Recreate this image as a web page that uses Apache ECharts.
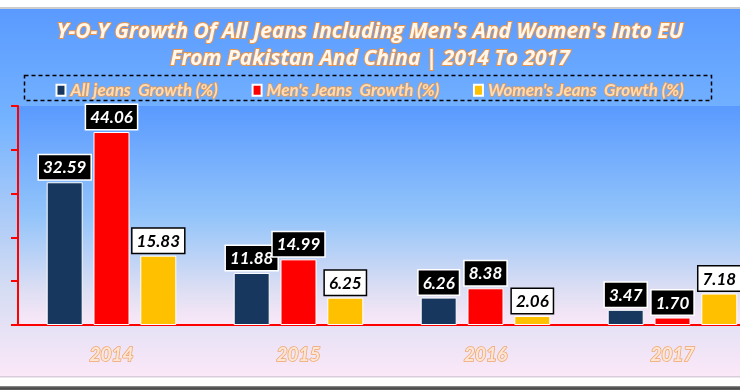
<!DOCTYPE html>
<html>
<head>
<meta charset="utf-8">
<script src="https://cdn.jsdelivr.net/npm/echarts@6/dist/echarts.min.js"></script>
<style>html,body{margin:0;padding:0;background:#fff;}#c{width:740px;height:390px;}</style>
</head>
<body>
<div id="c"></div>
<script>
const categories = ['2014', '2015', '2016', '2017'];
const allJeans = [32.59, 11.88, 6.26, 3.47];
const mensJeans = [44.06, 14.99, 8.38, 1.70];
const womensJeans = [15.83, 6.25, 2.06, 7.18];
const seriesNames = ['All jeans  Growth (%)', "Men's Jeans  Growth (%)", "Women's Jeans  Growth (%)"];
const titleLines = ["Y-O-Y Growth Of All Jeans Including Men's And Women's Into EU", 'From Pakistan And China | 2014 To 2017'];

const FONT = 'Lato';
const bgGrad = (stops) => new echarts.graphic.LinearGradient(0, 0, 0, 1, stops.map((c) => ({offset: c[0], color: c[1]})));
const gradStops = [[0, '#5a9aff'], [0.5, '#92c4fa'], [0.85, '#dfdff3'], [1, '#fbe8f8']];

function makeLabel(dark) {
  return {
    show: true, position: 'top', distance: 3,
    color: dark ? '#fff' : '#000', fontFamily: FONT, fontStyle: 'italic', fontWeight: 'bold', fontSize: 17,
    backgroundColor: dark ? '#000' : '#fff', borderColor: dark ? '#fff' : '#000', borderWidth: 1.5,
    padding: [4, 4, 3, 4],
    formatter: (p) => p.value.toFixed(2)
  };
}

const chart = echarts.init(document.getElementById('c'), null, {renderer: 'canvas'});
chart.setOption({
  backgroundColor: '#fff',
  animation: false,
  graphic: [
    {type: 'rect', z: -20, shape: {x: 0, y: 7, width: 740, height: 2}, style: {fill: '#cdcdcd'}, silent: true},
    {type: 'rect', z: -20, shape: {x: 0, y: 9, width: 740, height: 367}, style: {fill: bgGrad([[0, '#5a9aff'], [0.3, '#74b3ff'], [0.75, '#d3dcf3'], [1, '#fbe8f8']])}, silent: true},
    {type: 'rect', z: -20, shape: {x: 0, y: 376, width: 740, height: 1.5}, style: {fill: '#d8cdd8'}, silent: true},
    {type: 'rect', z: -20, shape: {x: 0, y: 386, width: 740, height: 4}, style: {fill: bgGrad([[0, '#9a9a9a'], [0.5, '#444'], [1, '#666']])}, silent: true},
    {type: 'rect', z: 50, shape: {x: 24.5, y: 75.5, width: 687, height: 25}, style: {fill: 'none', stroke: '#000', lineWidth: 1.5, lineDash: [4, 3]}, silent: true}
  ],
  title: {
    text: titleLines.join('\n'),
    left: 'center', top: 14,
    textStyle: {
      color: '#fff8ef', fontFamily: 'Open Sans', fontStyle: 'italic', fontWeight: 'bold', fontSize: 21,
      lineHeight: 27, textBorderColor: '#e8964e', textBorderWidth: 2
    }
  },
  legend: {
    data: seriesNames,
    left: 'center', top: 76,
    itemWidth: 9, itemHeight: 11, itemGap: 33,
    icon: 'rect',
    textStyle: {
      color: '#fcdcb6', fontFamily: FONT, fontStyle: 'italic', fontWeight: 'bold', fontSize: 17,
      textBorderColor: '#e39a58', textBorderWidth: 1.5
    }
  },
  grid: {
    left: 18, width: 748, top: 106, bottom: 65,
    outerBoundsMode: 'none', containLabel: false,
    show: true, borderWidth: 0,
    backgroundColor: bgGrad(gradStops)
  },
  xAxis: {
    type: 'category', data: categories,
    axisLine: {show: true, lineStyle: {color: '#ff0000', width: 2}},
    axisTick: {show: false},
    axisLabel: {
      margin: 20, color: '#fde6d6', fontFamily: FONT, fontStyle: 'italic', fontWeight: 'bold', fontSize: 19,
      textBorderColor: '#f0a468', textBorderWidth: 1.5
    },
    splitLine: {show: false}
  },
  yAxis: {
    type: 'value', min: 0, max: 50, interval: 10,
    axisLine: {show: true, lineStyle: {color: '#ff0000', width: 2}},
    axisTick: {show: true, inside: false, length: 7, lineStyle: {color: '#ff0000', width: 2}},
    axisLabel: {show: false},
    splitLine: {show: false}
  },
  series: [
    {name: seriesNames[0], type: 'bar', data: allJeans, barWidth: 36, barGap: '30%',
      itemStyle: {color: '#17375e', borderColor: '#fff', borderWidth: 1}, label: makeLabel(true)},
    {name: seriesNames[1], type: 'bar', data: mensJeans, barWidth: 36, barGap: '30%',
      itemStyle: {color: '#ff0000', borderColor: '#fff', borderWidth: 1}, label: makeLabel(true)},
    {name: seriesNames[2], type: 'bar', data: womensJeans, barWidth: 36, barGap: '30%',
      itemStyle: {color: '#ffc000', borderColor: '#fff', borderWidth: 1}, label: makeLabel(false)}
  ]
});
</script>
</body>
</html>
